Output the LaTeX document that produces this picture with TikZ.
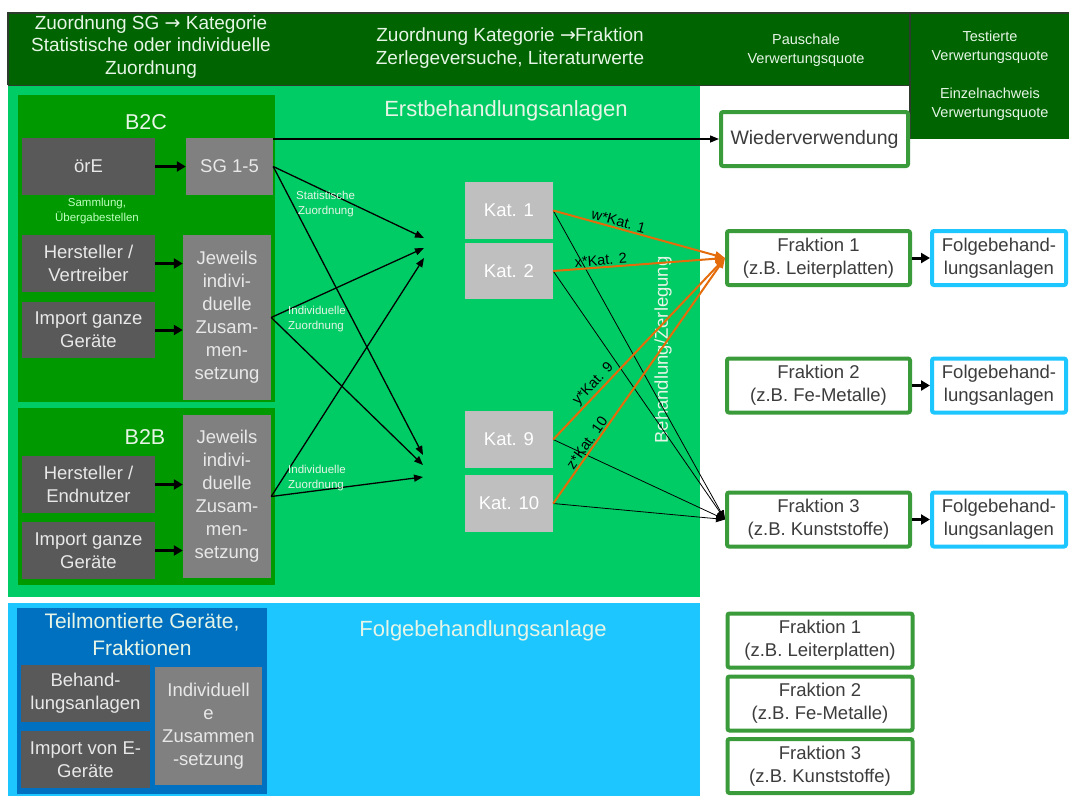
\documentclass[tikz,border=0pt]{standalone}
\usepackage{fontspec}
\setmainfont{Liberation Sans}
\newfontfamily\arrowfont{DejaVu Sans}
\usetikzlibrary{arrows.meta}
\definecolor{hdrgreen}{RGB}{0,100,0}
\definecolor{hdrline}{RGB}{45,60,45}
\definecolor{plantgreen}{RGB}{0,204,102}
\definecolor{srcgreen}{RGB}{0,153,0}
\definecolor{darkbox}{RGB}{89,89,89}
\definecolor{midbox}{RGB}{128,128,128}
\definecolor{katbox}{RGB}{191,191,191}
\definecolor{fracgreen}{RGB}{58,155,58}
\definecolor{skyblue}{RGB}{30,198,255}
\definecolor{deepblue}{RGB}{0,112,192}
\definecolor{flow}{RGB}{228,108,10}
\definecolor{boxtext}{RGB}{232,232,232}
\definecolor{fractext}{RGB}{60,60,60}
\definecolor{notegreen}{RGB}{190,255,190}
\definecolor{paletext}{RGB}{230,245,230}
\newcommand{\rarr}{{\arrowfont →}}
\begin{document}
\begin{tikzpicture}[x=1pt,y=-1pt,
  txtL/.style={font=\fontsize{18.5}{23}\selectfont},
  txtH/.style={font=\fontsize{19}{22.5}\selectfont},
  txtXL/.style={font=\fontsize{21.5}{26}\selectfont},
  txtS/.style={font=\fontsize{14.5}{19}\selectfont},
  txtXS/.style={font=\fontsize{11.5}{15}\selectfont},
  plain/.style={inner sep=0pt, align=center},
  srcbox/.style={plain, txtL, fill=darkbox, text=boxtext, minimum width=133pt, minimum height=57pt},
  mixbox/.style={plain, txtL, fill=midbox, text=boxtext},
  katnode/.style={plain, txtL, fill=katbox, text=white, minimum width=88pt, minimum height=57pt},
  fracbox/.style={plain, txtL, draw=fracgreen, line width=4pt, fill=white, rounded corners=2pt,
    text=fractext, minimum width=183pt, minimum height=54pt},
  nextbox/.style={fracbox, draw=skyblue, minimum width=134pt},
  bigarrow/.style={-{Triangle[length=9pt,width=10pt]}, line width=3pt},
  thinarrow/.style={-{Triangle[length=9pt,width=7pt]}, line width=1pt},
  flowarrow/.style={draw=flow, line width=2pt, -{Triangle[length=10pt,width=8pt]}},
  flowlbl/.style={plain, txtS, sloped, above, inner sep=1pt, text=black}
]
\useasboundingbox (0,0) rectangle (1069,796);
\fill[white] (0,0) rectangle (1069,796);

% header band and result column
\fill[hdrgreen] (8,13) rectangle (1069,85);
\fill[hdrgreen] (910,13) rectangle (1069,139);
\draw[hdrline, line width=1.2pt] (8,85) -- (8,13) -- (1069,13);
\draw[hdrline, line width=1.2pt] (910,13) -- (910,139);
\draw[hdrline, line width=0.8pt] (8,85) -- (910,85);

% treatment plant areas
\fill[plantgreen] (8,86) rectangle (700,597);
\fill[srcgreen] (18,95) rectangle (275,402);
\fill[srcgreen] (18,408) rectangle (275,585);
\fill[skyblue] (8,603) rectangle (700,796);
\fill[deepblue] (17,608) rectangle (267,794);

% header texts
\node[plain, txtH, text=paletext] (hdA) at (151,47) {Zuordnung SG \rarr{} Kategorie\\Statistische oder individuelle\\Zuordnung};
\node[plain, txtH, text=paletext] (hdB) at (510,48) {Zuordnung Kategorie \rarr{}\kern-1pt Fraktion\\Zerlegeversuche, Literaturwerte};
\node[plain, txtS, text=paletext] (hdC) at (806,50) {Pauschale\\Verwertungsquote};
\node[plain, txtS, text=paletext] (hdD) at (990,47) {Testierte\\Verwertungsquote};
\node[plain, txtS, text=paletext] (hdE) at (990,104) {Einzelnachweis\\Verwertungsquote};

% area titles
\node[plain, font=\fontsize{22}{26}\selectfont, text=paletext] (erst) at (506,111) {Erstbehandlungsanlagen};
\node[plain, txtL, text=paletext, rotate=90] (zerl) at (663,350) {Behandlung/Zerlegung};
\node[plain, font=\fontsize{22}{26}\selectfont, text=paletext] (folge) at (483,631) {Folgebehandlungsanlage};
\node[plain, txtXL, text=paletext] (btc) at (146,122) {B2C};
\node[plain, txtXL, text=paletext] (btb) at (145,437) {B2B};
\node[plain, font=\fontsize{21}{27}\selectfont, text=paletext] (teil) at (142,634) {Teilmontierte Geräte,\\Fraktionen};

% B2C sources
\node[srcbox] (ore) at (88.5,166.5) {örE};
\node[mixbox, minimum width=87pt, minimum height=57pt] (sg) at (229.5,166.5) {SG 1-5};
\node[plain, txtXS, text=notegreen] (samm) at (97,211) {Sammlung,\\Übergabestellen};
\node[srcbox] (hv) at (88.5,263.5) {Hersteller /\\Vertreiber};
\node[srcbox, minimum height=56pt] (igA) at (88.5,330) {Import ganze\\Geräte};
\node[mixbox, minimum width=88pt, minimum height=165pt] (jwA) at (227,317.5) {Jeweils\\indivi-\\duelle\\Zusam-\\men-\\setzung};

% B2B sources
\node[srcbox] (he) at (88.5,484.5) {Hersteller /\\Endnutzer};
\node[srcbox] (igB) at (88.5,550.5) {Import ganze\\Geräte};
\node[mixbox, minimum width=88pt, minimum height=163pt] (jwB) at (227,496.5) {Jeweils\\indivi-\\duelle\\Zusam-\\men-\\setzung};

% categories
\node[katnode] (k1) at (509,210.5) {Kat. 1};
\node[katnode, minimum height=56pt] (k2) at (509,271) {Kat. 2};
\node[katnode] (k9) at (509,439.5) {Kat. 9};
\node[katnode] (k10) at (509,503.5) {Kat. 10};

% fractions and follow-up plants
\node[fracbox, minimum width=187pt, font=\fontsize{19.5}{23}\selectfont] (wv) at (814.5,139) {Wiederverwendung};
\node[fracbox] (f1) at (818.5,258) {Fraktion 1\\(z.B. Leiterplatten)};
\node[fracbox] (f2) at (818.5,385.5) {Fraktion 2\\(z.B. Fe-Metalle)};
\node[fracbox] (f3) at (818.5,519.5) {Fraktion 3\\(z.B. Kunststoffe)};
\node[nextbox] (n1) at (999,258) {Folgebehand-\\lungsanlagen};
\node[nextbox] (n2) at (999,385.5) {Folgebehand-\\lungsanlagen};
\node[nextbox] (n3) at (999,519.5) {Folgebehand-\\lungsanlagen};

% follow-up plant sources
\node[srcbox, minimum width=129pt] (bh) at (85.5,693.5) {Behand-\\lungsanlagen};
\node[srcbox, minimum width=129pt] (ie) at (85.5,759.5) {Import von E-\\Geräte};
\node[mixbox, minimum width=107pt, minimum height=118pt] (iz) at (208.5,726) {Individuell\\e\\Zusammen\\-setzung};
\node[fracbox, minimum width=185pt] (b1) at (820,640.5) {Fraktion 1\\(z.B. Leiterplatten)};
\node[fracbox, minimum width=185pt] (b2) at (820,703.5) {Fraktion 2\\(z.B. Fe-Metalle)};
\node[fracbox, minimum width=185pt] (b3) at (820,766) {Fraktion 3\\(z.B. Kunststoffe)};

% source to composition arrows
\draw[bigarrow] (ore) -- (sg);
\draw[bigarrow] (hv.east) -- (hv.east -| jwA.west);
\draw[bigarrow] (igA.east) -- (igA.east -| jwA.west);
\draw[bigarrow] (he.east) -- (he.east -| jwB.west);
\draw[bigarrow] (igB.east) -- (igB.east -| jwB.west);

% reuse path
\draw[thinarrow, line width=1.4pt] (sg.east |- wv.west) -- (wv.west);

% assignment to categories
\coordinate (pa) at (424,238);
\coordinate (pb) at (424,248);
\coordinate (pc) at (424,258);
\coordinate (qa) at (423,455);
\coordinate (qb) at (423,465);
\coordinate (qc) at (423,477);
\draw[thinarrow, line width=1.3pt] (sg.east) -- (pa);
\draw[thinarrow, line width=1.3pt] (sg.east) -- (qa);
\draw[thinarrow, line width=1.3pt] (jwA.east) -- (pb);
\draw[thinarrow, line width=1.3pt] (jwA.east) -- (qb);
\draw[thinarrow, line width=1.3pt] (jwB.east) -- (pc);
\draw[thinarrow, line width=1.3pt] (jwB.east) -- (qc);
\node[plain, txtXS, text=paletext, align=left, anchor=west] (lstat) at (296,204) {Statistische\\\,Zuordnung};
\node[plain, txtXS, text=paletext, align=left, anchor=west] (lindA) at (288,319) {Individuelle\\Zuordnung};
\node[plain, txtXS, text=paletext, align=left, anchor=west] (lindB) at (288,478) {Individuelle\\Zuordnung};

% categories to fractions
\draw[thinarrow, line width=0.8pt] (k1.east) -- (f3.west);
\draw[thinarrow, line width=0.8pt] (k2.east) -- (f3.west);
\draw[thinarrow, line width=0.8pt] (k9.east) -- (f3.west);
\draw[thinarrow, line width=0.8pt] (k10.east) -- (f3.west);
\draw[flowarrow] (k1.east) -- node[flowlbl, pos=0.37] (lw) {w*Kat. 1} (f1.west);
\draw[flowarrow] (k2.east) -- node[flowlbl, pos=0.28] (lx) {x*Kat. 2} (f1.west);
\draw[flowarrow] (k9.east) -- node[flowlbl, pos=0.27] (ly) {y*Kat. 9} (f1.west);
\draw[flowarrow] (k10.east) -- node[flowlbl, pos=0.23] (lz) {z*Kat. 10} (f1.west);

% fractions to follow-up plants
\draw[bigarrow] (f1) -- (n1);
\draw[bigarrow] (f2) -- (n2);
\draw[bigarrow] (f3) -- (n3);
\end{tikzpicture}
\end{document}
